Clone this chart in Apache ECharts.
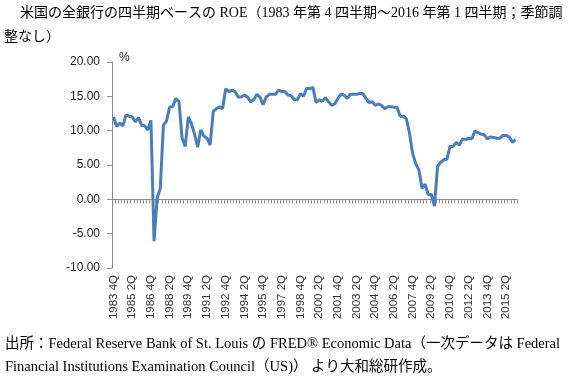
<!DOCTYPE html>
<html>
<head>
<meta charset="utf-8">
<script src="https://cdn.jsdelivr.net/npm/echarts@6/dist/echarts.min.js"></script>
<style>
html,body{margin:0;padding:0;background:#fff;}
#chart{width:575px;height:381px;}
</style>
</head>
<body>
<div id="chart"></div>
<script>
// Quarterly categories 1983 Q4 .. 2016 Q1
const startYear = 1983, startQuarter = 4, pointCount = 130;
const categories = [];
for (let k = 0; k < pointCount; k++) {
  const q0 = (startQuarter - 1) + k;
  categories.push((startYear + Math.floor(q0 / 4)) + ' ' + ((q0 % 4) + 1) + 'Q');
}
// ROE (%) values
const roe = [
  12.0, 10.6, 11.1, 10.7, 12.3, 12.1, 12.0, 11.3, 11.9, 10.8,
  10.7, 10.1, 11.5, -6.1, 0.2, 1.6, 10.8, 11.4, 13.4, 13.5,
  14.7, 14.2, 8.9, 7.7, 12.0, 11.0, 9.5, 7.6, 10.1, 9.2,
  8.9, 7.9, 12.8, 13.2, 13.5, 13.2, 16.1, 15.7, 15.9, 15.7,
  14.9, 14.9, 15.2, 14.9, 14.2, 14.5, 15.3, 14.9, 13.8, 14.9,
  15.3, 15.3, 15.3, 15.9, 15.7, 15.7, 15.2, 15.1, 14.5, 14.5,
  15.4, 15.0, 16.2, 16.1, 16.3, 14.1, 14.5, 14.3, 14.8, 14.2,
  13.7, 13.9, 14.7, 15.3, 15.2, 14.7, 15.3, 15.3, 15.3, 15.4,
  15.4, 14.7, 14.1, 14.2, 13.7, 13.9, 13.7, 13.2, 13.5, 13.5,
  13.4, 13.4, 12.1, 12.1, 11.7, 9.6, 6.7, 5.2, 4.3, 1.6,
  2.2, 0.7, 0.7, -1.0, 4.8, 5.4, 5.8, 5.8, 7.7, 7.7,
  8.3, 7.9, 8.8, 8.7, 8.9, 8.8, 10.0, 9.7, 9.5, 9.4,
  8.8, 9.1, 9.0, 8.9, 8.9, 9.3, 9.3, 9.1, 8.3, 8.7
];
const yMin = -10, yMax = 20, yStep = 5;
const titleLine1 = '米国の全銀行の四半期ベースの ROE（1983 年第 4 四半期～2016 年第 1 四半期；季節調';
const titleLine2 = '整なし）';
const srcLine1 = '出所：Federal Reserve Bank of St. Louis の FRED® Economic Data（一次データは Federal';
const srcLine2 = 'Financial Institutions Examination Council（US)） より大和総研作成。';
const unitLabel = '%';

const serif = "'Liberation Serif','Noto Sans CJK JP',serif";
const sans = "'Liberation Sans','Noto Sans CJK JP',sans-serif";
const axisColor = '#8c8c8c';

const chart = echarts.init(document.getElementById('chart'), null, {renderer: 'canvas'});
chart.setOption({
  animation: false,
  backgroundColor: '#fff',
  grid: {left: 112, right: 58, top: 62, bottom: 113, containLabel: false},
  xAxis: [
    {
      type: 'category', data: categories, boundaryGap: true,
      axisLine: {onZero: true, lineStyle: {color: axisColor, width: 1}},
      axisTick: {show: true, interval: 0, length: 4, lineStyle: {color: axisColor}},
      axisLabel: {show: false}
    },
    {
      type: 'category', data: categories, boundaryGap: true, position: 'bottom',
      axisLine: {show: false, onZero: false},
      axisTick: {show: false},
      axisLabel: {show: true, interval: 5, rotate: 90, margin: 7, color: '#333', fontSize: 11.5, fontFamily: sans}
    }
  ],
  yAxis: {
    type: 'value', min: yMin, max: yMax, interval: yStep,
    axisLine: {show: true, lineStyle: {color: axisColor}},
    axisTick: {show: true, length: 5, lineStyle: {color: axisColor}},
    splitLine: {show: false},
    axisLabel: {formatter: v => v.toFixed(2), color: '#222', fontSize: 12, fontFamily: sans, margin: 12}
  },
  series: [{
    type: 'line', data: roe, xAxisIndex: 0, symbol: 'none', smooth: false,
    lineStyle: {color: '#4a7ebb', width: 3}
  }],
  graphic: [
    {type: 'text', left: 20, top: 6, style: {text: titleLine1, font: '14px ' + serif, fill: '#000'}},
    {type: 'text', left: 4, top: 30, style: {text: titleLine2, font: '14px ' + serif, fill: '#000'}},
    {type: 'text', left: 119, top: 52, style: {text: unitLabel, font: '12px ' + sans, fill: '#222'}},
    {type: 'text', left: 5, top: 337, style: {text: srcLine1, font: '14.5px ' + serif, fill: '#000'}},
    {type: 'text', left: 5, top: 360, style: {text: srcLine2, font: '14.5px ' + serif, fill: '#000'}}
  ]
});
</script>
</body>
</html>
